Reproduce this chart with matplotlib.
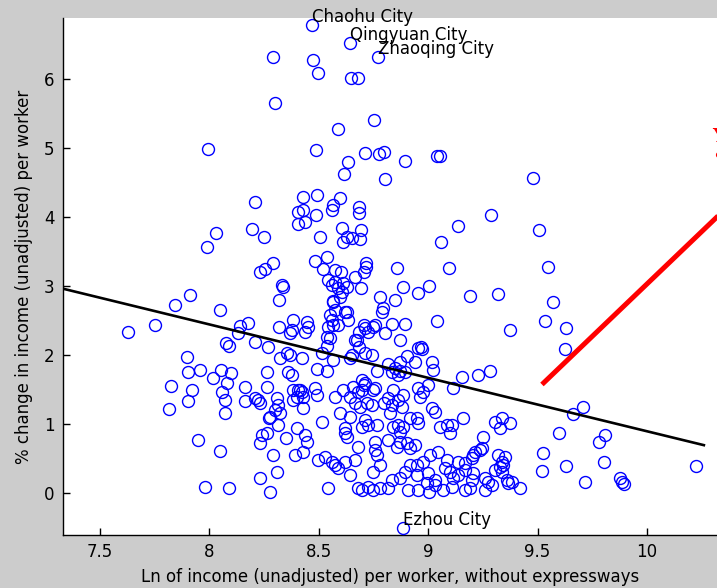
import matplotlib
matplotlib.use("Agg")
import matplotlib.pyplot as plt

# ---------------- data ----------------
ln_income = [
    8.469, 8.291, 8.473, 8.496, 8.643, 8.647, 8.679, 8.771, 8.300, 8.752,
    8.588, 7.994, 8.487, 8.711, 8.775, 8.798, 8.633, 8.894, 9.040, 9.054,
    8.615, 8.802, 9.479, 8.208, 8.428, 8.492, 8.405, 8.428, 8.405, 8.437,
    8.487, 8.597, 8.560, 8.565, 8.684, 8.684, 9.287, 9.136, 9.506, 8.693,
    8.688, 8.606, 8.611, 8.629, 8.652, 9.058, 8.195, 8.250, 8.505, 7.989,
    8.030,
    8.291, 8.254, 8.231, 8.483, 8.537, 8.519, 8.574, 8.601, 8.716, 8.716,
    8.706, 8.665, 8.542, 8.574, 8.560, 8.611, 8.629, 8.693, 8.332, 8.588,
    8.606, 8.857, 9.095, 9.548, 8.885, 9.004, 8.780, 8.848, 8.953, 9.191,
    9.319, 9.570, 8.318, 8.565, 8.336, 7.911, 7.843, 8.048,
    8.793, 8.789, 8.551, 8.560, 8.565, 8.620, 8.633, 8.382, 8.446, 8.451,
    8.437, 8.318, 8.377, 8.537, 8.748, 8.757, 8.711, 8.725, 8.665, 8.268,
    8.323, 8.354, 8.368, 8.423, 8.515, 8.652, 9.040, 9.534, 9.630, 9.374,
    9.625, 7.628, 7.751, 8.140, 8.176, 8.131, 8.076, 8.090, 8.208, 8.368,
    8.565, 8.834, 8.894, 8.802, 8.871, 8.953, 8.967, 8.972, 8.903, 8.871,
    8.940, 9.017,
    8.263, 8.359, 8.377, 8.492, 8.537, 8.263, 8.405, 8.423, 8.400, 8.428,
    8.483, 8.492, 8.222, 8.231, 8.309, 8.314, 8.300, 8.323, 8.428, 8.277,
    8.314, 8.400, 8.515, 8.240, 8.263, 8.231, 8.350, 8.437, 8.446, 8.291,
    8.391, 8.428, 8.309, 8.231, 8.277, 8.542, 8.496, 8.528, 8.560, 8.574,
    8.588, 8.620, 8.665, 8.679, 8.643, 8.620, 8.629, 8.597, 8.620, 8.574,
    8.611, 8.643, 8.656, 8.679, 8.711, 8.697, 8.748, 8.665, 8.720, 8.643,
    8.711, 8.725, 8.697, 8.766, 8.757, 8.757, 8.766, 8.780, 8.748, 8.679,
    8.697, 8.725, 8.748, 8.780,
    8.834, 8.862, 8.894, 9.022, 9.154, 9.227, 9.282, 9.113, 8.839, 8.885,
    8.816, 8.862, 8.834, 8.880, 8.953, 8.976, 8.999, 8.962, 9.017, 9.031,
    9.159, 8.825, 8.917, 8.949, 8.953, 8.839, 8.862, 8.885, 8.871, 9.054,
    9.086, 9.100, 9.109, 9.305, 9.337, 9.328, 9.374, 9.251, 8.816, 8.871,
    8.857, 8.903, 8.917, 8.940, 9.008, 9.045, 9.086, 9.136, 9.168, 9.205,
    9.214, 9.200, 9.237, 9.246, 9.319, 9.337, 9.342, 9.328, 9.351, 8.917,
    8.949, 8.976, 8.894, 8.871, 8.834, 8.949, 8.999, 9.031, 8.994, 9.031,
    9.077, 9.100, 9.113, 9.136, 9.168, 9.205, 9.200, 9.260, 9.273, 9.292,
    9.305, 9.337, 9.360, 9.365, 9.260, 9.168, 9.191, 9.068, 9.109, 9.004,
    8.953, 8.908, 8.816, 9.419, 9.383,
    9.708, 9.662, 9.598, 9.808, 9.781, 9.525, 9.803, 9.630, 9.520, 9.717,
    9.877, 9.886, 9.895, 10.224, 8.885,
    7.898, 7.902, 7.957, 8.016, 8.053, 8.099, 8.080, 8.057, 8.071, 8.071,
    7.824, 7.920, 7.902, 7.815, 8.163, 8.163, 8.208, 8.272, 7.948, 8.048,
    7.980, 8.090, 8.382, 8.414, 8.382,
    8.551, 8.542, 8.574, 8.565, 8.629, 8.588, 8.674, 8.643, 8.597, 8.537,
    8.706, 8.684, 8.684, 8.711, 8.743, 8.816, 8.848, 8.871, 8.766, 8.697,
    8.706, 8.757, 8.798, 8.743, 8.688,
]

pct_change = [
    6.78, 6.32, 6.27, 6.09, 6.52, 6.01, 6.01, 6.32, 5.65, 5.40,
    5.27, 4.98, 4.97, 4.93, 4.91, 4.94, 4.79, 4.81, 4.88, 4.88,
    4.62, 4.55, 4.56, 4.22, 4.29, 4.32, 4.07, 4.10, 3.90, 3.93,
    4.03, 4.27, 4.10, 4.17, 4.14, 4.05, 4.03, 3.87, 3.81, 3.81,
    3.68, 3.84, 3.64, 3.71, 3.69, 3.64, 3.82, 3.71, 3.71, 3.56,
    3.76,
    3.33, 3.25, 3.20, 3.36, 3.42, 3.25, 3.23, 3.20, 3.33, 3.27,
    3.20, 3.13, 3.08, 3.06, 3.01, 3.04, 2.98, 2.97, 3.01, 2.97,
    2.91, 3.26, 3.26, 3.27, 2.98, 3.00, 2.84, 2.79, 2.90, 2.85,
    2.88, 2.77, 2.79, 2.78, 2.98, 2.87, 2.72, 2.65,
    2.68, 2.62, 2.58, 2.50, 2.43, 2.62, 2.50, 2.50, 2.47, 2.40,
    2.33, 2.40, 2.36, 2.26, 2.40, 2.43, 2.39, 2.33, 2.21, 2.11,
    1.95, 2.03, 2.00, 1.95, 2.03, 2.00, 2.49, 2.49, 2.39, 2.36,
    2.09, 2.33, 2.43, 2.42, 2.46, 2.32, 2.17, 2.13, 2.18, 2.32,
    1.92, 2.45, 2.45, 2.32, 2.21, 2.10, 2.11, 2.09, 1.98, 1.89,
    1.89, 1.89,
    1.75, 1.75, 1.71, 1.79, 1.77, 1.53, 1.49, 1.46, 1.39, 1.39,
    1.52, 1.42, 1.34, 1.30, 1.37, 1.27, 1.20, 1.16, 1.23, 1.10,
    0.98, 0.94, 1.03, 0.84, 0.87, 0.72, 0.79, 0.84, 0.74, 0.55,
    0.55, 0.59, 0.30, 0.21, 0.01, 0.07, 0.47, 0.52, 0.45, 0.40,
    0.36, 0.45, 0.47, 0.66, 0.26, 0.87, 0.81, 1.16, 0.94, 1.39,
    1.49, 1.39, 1.53, 1.46, 1.59, 1.49, 1.49, 1.30, 1.30, 1.10,
    1.05, 0.98, 0.95, 0.98, 0.74, 0.62, 0.55, 0.40, 0.30, 0.07,
    0.04, 0.08, 0.04, 0.07,
    1.75, 1.71, 1.75, 1.78, 1.68, 1.71, 1.77, 1.52, 1.49, 1.42,
    1.37, 1.34, 1.27, 1.24, 1.52, 1.46, 1.56, 1.39, 1.23, 1.17,
    1.08, 1.16, 1.08, 1.08, 1.01, 0.95, 0.98, 0.95, 0.88, 0.95,
    0.98, 0.87, 0.98, 1.03, 1.08, 0.94, 1.01, 0.81, 0.76, 0.74,
    0.66, 0.72, 0.65, 0.69, 0.55, 0.59, 0.47, 0.45, 0.43, 0.55,
    0.59, 0.50, 0.62, 0.65, 0.55, 0.45, 0.40, 0.37, 0.52, 0.40,
    0.40, 0.45, 0.30, 0.21, 0.18, 0.26, 0.29, 0.18, 0.14, 0.11,
    0.36, 0.30, 0.21, 0.26, 0.33, 0.29, 0.18, 0.21, 0.15, 0.11,
    0.33, 0.30, 0.18, 0.14, 0.04, 0.04, 0.07, 0.04, 0.08, 0.01,
    0.04, 0.04, 0.07, 0.07, 0.15,
    1.24, 1.14, 0.87, 0.84, 0.73, 0.58, 0.44, 0.39, 0.31, 0.15,
    0.21, 0.15, 0.12, 0.39, -0.51,
    1.97, 1.75, 1.78, 1.66, 1.78, 1.74, 1.59, 1.46, 1.34, 1.16,
    1.55, 1.49, 1.33, 1.21, 1.53, 1.33, 1.37, 1.08, 0.76, 0.60,
    0.08, 0.07, 1.49, 1.49, 1.34,
    2.24, 2.40, 2.65, 2.76, 2.62, 2.43, 2.21, 1.95, 2.84, 2.13,
    2.43, 2.33, 2.11, 2.03, 2.00, 1.87, 1.81, 1.77, 1.77, 1.63,
    1.56, 1.52, 1.30, 1.27, 1.24,
]

city_names = ["Chaohu City", "Qingyuan City", "Zhaoqing City", "Ezhou City"]
city_x = [8.469, 8.643, 8.771, 8.885]
city_y = [6.78, 6.52, 6.32, -0.51]

fit_x = [7.33, 10.26]
fit_y = [2.96, 0.69]

red_x = [9.52, 10.60]
red_y = [1.57, 4.85]

xticks = [7.5, 8, 8.5, 9, 9.5, 10]
xtick_labels = ["7.5", "8", "8.5", "9", "9.5", "10"]
yticks = [0, 1, 2, 3, 4, 5, 6]
ytick_labels = ["0", "1", "2", "3", "4", "5", "6"]

# ---------------- figure ----------------
W, H = 717, 588
fig = plt.figure(figsize=(W / 100, H / 100), dpi=100, facecolor="#cccccc")
ax = fig.add_axes([63 / W, (H - 535) / H, (W - 63) / W, (535 - 18) / H])
ax.set_facecolor("white")

ax.plot(ln_income, pct_change, linestyle="none", marker="o", markersize=8.6,
        markerfacecolor="none", markeredgecolor="#0000ff", markeredgewidth=1.0,
        zorder=3)
ax.plot(fit_x, fit_y, color="black", linewidth=1.9, zorder=4)
ax.plot(red_x, red_y, color="#ff0000", linewidth=3.6, solid_capstyle="butt",
        clip_on=False, zorder=5)

for name, cx, cy in zip(city_names, city_x, city_y):
    ax.annotate(name, xy=(cx, cy), xytext=(0, 6), textcoords="offset points",
                ha="left", va="center", fontsize=12, color="black",
                annotation_clip=False, zorder=6)

ax.set_xlim(7.331, 10.32)
ax.set_ylim(-0.613, 6.885)
ax.set_xticks(xticks)
ax.set_xticklabels(xtick_labels)
ax.set_yticks(yticks)
ax.set_yticklabels(ytick_labels)
ax.tick_params(direction="in", length=5, width=1.0, labelsize=12, pad=6,
               colors="black")
for side in ["top", "right"]:
    ax.spines[side].set_visible(False)
for side in ["left", "bottom"]:
    ax.spines[side].set_linewidth(1.0)
    ax.spines[side].set_color("black")

ax.set_xlabel("Ln of income (unadjusted) per worker, without expressways",
              fontsize=12, labelpad=5)
ax.set_ylabel("% change in income (unadjusted) per worker", fontsize=12,
              labelpad=8)

# partial red note at the right edge (cropped in the original)
fig.text(712 / W, 1 - 137 / H, "Y", color="#ff0000", fontsize=14,
         fontweight="bold", family="DejaVu Serif", ha="left", va="center")
fig.text(712 / W, 1 - 157 / H, "\u2022", color="#ff0000", fontsize=14,
         ha="left", va="center")

fig.savefig("out.png", dpi=100, facecolor=fig.get_facecolor())
